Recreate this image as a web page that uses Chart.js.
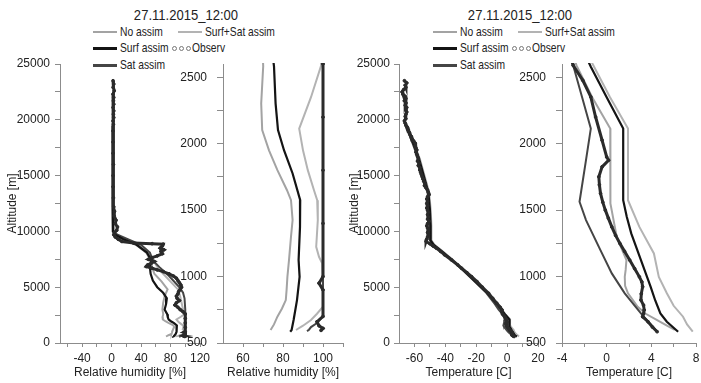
<!DOCTYPE html>
<html>
<head>
<meta charset="utf-8">
<script src="https://cdn.jsdelivr.net/npm/chart.js@4.4.0/dist/chart.umd.min.js"></script>
<style>
  body { margin: 0; background: #fff; width: 701px; height: 383px; overflow: hidden; position: relative;
         font-family: "Liberation Sans", Arial, sans-serif; color: #222; }
  canvas { position: absolute; }
  .ttl { position: absolute; font-size: 15px; line-height: 18px; white-space: nowrap; transform: translateX(-50%) scaleX(0.87); }
  .lg { position: absolute; font-size: 13px; line-height: 16px; white-space: nowrap; transform: scaleX(0.79); transform-origin: 0 50%; }
  .ln { position: absolute; height: 0; }
  .dot { position: absolute; width: 3px; height: 3px; border: 1px solid #777; border-radius: 50%; }
</style>
</head>
<body>

<div class="ttl" style="left:186px;top:6px">27.11.2015_12:00</div>
<div class="ttl" style="left:520px;top:6px">27.11.2015_12:00</div>
<div id="legends"></div>

<canvas id="c1" width="215" height="328" style="left:0;top:55px"></canvas>
<canvas id="c2" width="190" height="328" style="left:160px;top:55px"></canvas>
<canvas id="c3" width="205" height="328" style="left:345px;top:55px"></canvas>
<canvas id="c4" width="196" height="328" style="left:505px;top:55px"></canvas>

<script>
// profiles: [altitude m, value]
var rhNoAssim = [[19500,1],[16000,1],[12000,1],[10000,1.5],[9700,4],[9300,15],[8800,33],[8100,47],[7400,53],[6800,55],[6200,58],[5500,68],[4800,76],[4200,72],[3600,70],[3000,69],[2583,70.1],[2302,69.1],[2102,69.6],[1950,73],[1801,77.2],[1650,82],[1575,84],[1425,84.8],[1300,84],[1124,83],[998,82.2],[900,81.8],[823,81.4],[760,79.5],[698,77.2],[640,75.5],[598,73.8]];
var rhSurfSat = [[19500,2],[16000,2],[12000,2],[10000,2.5],[9700,6],[9300,18],[8800,36],[8100,50],[7400,57],[6800,62],[6200,70],[5500,80],[4800,90],[4200,93],[3600,95],[3000,97],[2590,99.1],[2350,94],[2114,88.1],[1950,90],[1801,92.4],[1650,95.5],[1575,97.1],[1425,97.4],[1224,96.6],[1149,98],[1099,99.6],[900,100],[773,100],[720,97],[673,94],[630,90],[598,86.5]];
var rhSurf = [[19500,1.5],[16000,1.5],[12000,1.5],[10000,2],[9700,5],[9300,16],[8800,34],[8100,48],[7400,54],[6800,52],[6200,53],[5600,56],[5000,62],[4500,70],[4000,75],[3500,74],[3000,72],[2583,75.5],[2302,76.3],[2102,77.5],[1951,80.5],[1776,84.8],[1575,88.6],[1374,88.5],[1124,87.8],[998,88.3],[823,87],[673,85.3],[598,84.3],[585,83.6]];
var rhSat = [[19500,2],[12000,2],[10000,3],[9700,8],[9300,22],[8800,40],[8100,52],[7400,56],[6800,65],[6000,78],[5000,92],[4500,97],[4000,99],[3000,100],[2600,100],[1500,100],[700,100],[650,97],[620,94],[600,93],[590,92]];
var rhObserv = [[23500,2],[23200,3],[22900,2],[22600,3.5],[22300,2],[22000,3],[21700,2.5],[21400,3],[21100,2],[20800,3],[20500,2.5],[20200,3],[19900,2],[19600,2.5],[19000,2],[18000,2],[17000,2],[16000,2.5],[15000,2],[14000,2],[13000,2.5],[12200,3],[11800,4],[11400,3.5],[11000,6],[10700,5],[10400,8],[10100,7],[9900,4],[9700,3],[9500,5],[9300,9],[9100,14],[8950,30],[8900,55],[8850,70],[8700,69],[8500,66],[8350,71],[8200,67],[8000,69],[7800,62],[7650,55],[7500,50],[7300,58],[7150,54],[7000,49],[6850,47],[6700,55],[6550,62],[6400,70],[6200,78],[6000,84],[5800,88],[5600,90],[5400,92],[5200,94],[5000,95],[4800,93],[4600,91],[4400,90],[4200,88],[4000,89],[3800,92],[3600,88],[3400,86],[3200,90],[3000,93],[2800,97],[2600,100],[2200,100],[1800,100],[1400,100],[1000,100],[950,98],[900,100],[700,100],[660,97],[630,98],[610,100],[595,99]];

var tNoAssim = [[19500,-65],[18000,-61],[16500,-57],[15000,-54],[13500,-51],[12000,-50],[10500,-49.5],[9200,-49.5],[8800,-47.5],[8300,-43],[7500,-36],[6500,-28],[5500,-20.5],[4500,-13],[3500,-7],[3000,-4.5],[2590,-2.7],[2350,-1.3],[2114,0.32],[1800,0.32],[1550,0.35],[1299,0.9],[1124,1.77],[1050,1.7],[998,1.62],[930,1.65],[874,1.91],[773,2.78],[720,3.5],[673,4.52],[630,5.4],[598,6.1]];
var tSurfSat = [[19500,-64.5],[18000,-60.5],[16500,-56.5],[15000,-53.5],[13500,-50.5],[12000,-49.5],[10500,-49],[9200,-49],[8800,-47],[8300,-42.5],[7500,-35.5],[6500,-27.5],[5500,-20],[4500,-12.5],[3500,-6.3],[3000,-3.5],[2590,-1.2],[2350,0.3],[2114,1.91],[1850,1.91],[1575,1.91],[1374,2.93],[1174,4.23],[998,4.67],[874,5.39],[780,6],[698,6.84],[640,7.2],[585,7.71]];
var tSurf = [[19500,-65],[18000,-61],[16500,-57],[15000,-54],[13500,-51],[12000,-50],[10500,-49.5],[9200,-49.5],[8800,-47.5],[8300,-43],[7500,-36],[6500,-28],[5500,-20.5],[4500,-13],[3500,-6.5],[3000,-3.8],[2580,-1.42],[2350,0],[2114,1.48],[1850,1.48],[1575,1.48],[1450,1.8],[1325,2.2],[1124,3.07],[923,3.94],[820,4.35],[723,4.81],[660,5.39],[585,6.4]];
var tSat = [[19500,-65.5],[18000,-61.5],[16500,-57.5],[15000,-54.5],[13500,-51.5],[12000,-50.5],[10500,-50],[9200,-50],[8800,-48],[8300,-43.5],[7500,-36.5],[6500,-28.5],[5500,-21],[4500,-13.5],[3500,-8],[3000,-5.5],[2590,-3],[2350,-2.2],[2114,-1.42],[1850,-1.9],[1563,-2.43],[1425,-1.85],[1224,-0.7],[1024,0.46],[874,1.62],[723,3.07],[585,4.52]];
var tObserv = [[23500,-66.5],[23300,-65],[23100,-66],[22900,-65.5],[22700,-67],[22500,-68],[22300,-67.5],[22100,-66],[21900,-65.5],[21700,-66.5],[21500,-65.5],[21300,-66],[21100,-65],[20900,-65.5],[20700,-65],[20500,-65.5],[20300,-66],[20100,-65.5],[19900,-66.5],[19700,-66],[19500,-65.5],[19300,-64.5],[19100,-64],[18900,-63.5],[18700,-63],[18500,-62],[18300,-61.5],[18100,-60.5],[17900,-59.5],[17700,-59.5],[17500,-59],[17300,-58.5],[17100,-59],[16900,-58.5],[16700,-58],[16500,-57.5],[16300,-58],[16100,-57],[15900,-57.5],[15700,-56.5],[15500,-56.5],[15300,-56],[15100,-55.5],[14900,-55],[14700,-54.5],[14500,-54],[14300,-53],[14100,-53.5],[13900,-52.5],[13700,-51.5],[13500,-51],[13300,-50.5],[13100,-51.5],[12900,-52],[12700,-51.5],[12500,-52],[12300,-51.5],[12100,-52],[11900,-51.5],[11700,-51],[11500,-51.5],[11300,-51],[11100,-51.5],[10900,-50.5],[10700,-51.5],[10500,-52],[10300,-51.5],[10100,-51],[9900,-51.5],[9700,-51],[9500,-51.5],[9300,-52],[9100,-52.5],[8900,-50],[8700,-48],[8500,-45.8],[8200,-43],[7900,-40.5],[7440,-36],[7000,-32],[6700,-29.5],[6300,-26],[5940,-23],[5500,-19.5],[5000,-16],[4450,-12],[4000,-9.3],[3560,-6.7],[3200,-4.5],[2960,-3.3],[2800,-3.5],[2590,-3],[2477,-2.14],[2352,-1.42],[2201,-0.99],[2026,-0.41],[1900,0],[1876,0.17],[1826,-0.41],[1751,-0.7],[1690,-0.65],[1626,-0.55],[1560,-0.35],[1500,-0.12],[1440,0.15],[1374,0.46],[1310,0.8],[1249,1.19],[1190,1.6],[1124,2.06],[1060,2.5],[998,2.93],[960,3.15],[923,3.22],[870,3.1],[823,3.07],[785,3.3],[748,3.36],[720,3.3],[698,3.22],[660,3.7],[620,4.1],[585,4.52]];

// ticks
var altTicks = [0,2500,5000,7500,10000,12500,15000,17500,20000,22500,25000];
var altLabels = [0,5000,10000,15000,20000,25000];
var altZoomTicks = [500,750,1000,1250,1500,1750,2000,2250,2500];
var altZoomLabels = [500,1000,1500,2000,2500];
var rhTicks = [-60,-40,-20,0,20,40,60,80,100,120];
var rhLabels = [-40,0,40,80,120];
var rhZoomTicks = [60,70,80,90,100,110];
var rhZoomLabels = [60,80,100];
var tTicks = [-60,-50,-40,-30,-20,-10,0,10,20];
var tLabels = [-60,-40,-20,0,20];
var tZoomTicks = [-4,-2,0,2,4,6,8];
var tZoomLabels = [-4,0,4,8];

var seriesNames = ['No assim', 'Surf+Sat assim', 'Surf assim', 'Observ', 'Sat assim'];
var cNo = '#a3a3a3', cSurfSat = '#b3b3b3', cSurf = '#141414', cSat = '#454545', cObs = '#2b2b2b';

Chart.defaults.font.family = '"Liberation Sans", Arial, sans-serif';
Chart.defaults.font.size = 12;
Chart.defaults.color = '#222';

function line(label, pts, color, width) {
  return {
    label: label,
    data: pts.map(function (p) { return { x: p[1], y: p[0] }; }),
    showLine: true, borderColor: color, backgroundColor: color, borderWidth: width,
    pointRadius: 0, tension: 0, clip: 1
  };
}

function observ(pts) {
  var d = line('Observ', pts, cObs, 3);
  d.pointRadius = 1.4;
  d.pointBorderWidth = 1;
  d.pointBackgroundColor = cObs;
  d.pointBorderColor = cObs;
  return d;
}

function profile(id, o) {
  new Chart(document.getElementById(id), {
    type: 'scatter',
    data: { datasets: o.sets },
    options: {
      responsive: false, animation: false, devicePixelRatio: 1,
      layout: { padding: { top: 9, right: o.padRight, bottom: 0, left: 0 } },
      plugins: { legend: { display: false }, tooltip: { enabled: false } },
      scales: {
        x: {
          type: 'linear', min: o.xMin, max: o.xMax,
          afterBuildTicks: function (s) { s.ticks = o.xTicks.map(function (v) { return { value: v }; }); },
          afterFit: function (s) { s.height = 40; s.paddingLeft = 0; s.paddingRight = 0; },
          ticks: { autoSkip: false, maxRotation: 0, padding: 4,
                   callback: function (v) { return o.xLabels.indexOf(v) >= 0 ? String(v) : ''; } },
          grid: { drawOnChartArea: false, drawTicks: true, tickLength: 4, color: '#8c8c8c' },
          border: { color: '#8c8c8c' },
          title: { display: true, text: o.xTitle, padding: { top: 0, bottom: 3 } }
        },
        y: {
          type: 'linear', min: o.yMin, max: o.yMax,
          afterBuildTicks: function (s) { s.ticks = o.yTicks.map(function (v) { return { value: v }; }); },
          afterFit: function (s) { s.width = o.yWidth; s.paddingTop = 0; s.paddingBottom = 0; },
          ticks: { autoSkip: false, padding: o.yPad,
                   callback: function (v) { return o.yLabels.indexOf(v) >= 0 ? String(v) : ''; } },
          grid: { drawOnChartArea: false, drawTicks: true, tickLength: o.yTick, color: '#8c8c8c' },
          border: { color: '#8c8c8c' },
          title: { display: !!o.yTitle, text: o.yTitle || '', padding: { top: o.yTitlePad || 0, bottom: 0 } }
        }
      }
    }
  });
}

function rhSets() {
  return [observ(rhObserv), line('Surf assim', rhSurf, cSurf, 2.2), line('Sat assim', rhSat, cSat, 2),
          line('Surf+Sat assim', rhSurfSat, cSurfSat, 2), line('No assim', rhNoAssim, cNo, 2)];
}
function tSets() {
  return [observ(tObserv), line('Surf assim', tSurf, cSurf, 2.2), line('Sat assim', tSat, cSat, 2),
          line('Surf+Sat assim', tSurfSat, cSurfSat, 2), line('No assim', tNoAssim, cNo, 2)];
}

profile('c1', { sets: rhSets(), xMin: -70, xMax: 120, xTicks: rhTicks, xLabels: rhLabels,
  yMin: 0, yMax: 25000, yTicks: altTicks, yLabels: altLabels, yWidth: 60, yTick: 5, yPad: 5,
  padRight: 15, xTitle: 'Relative humidity [%]', yTitle: 'Altitude [m]', yTitlePad: 5 });
profile('c2', { sets: rhSets(), xMin: 50, xMax: 110, xTicks: rhZoomTicks, xLabels: rhZoomLabels,
  yMin: 500, yMax: 2600, yTicks: altZoomTicks, yLabels: altZoomLabels, yWidth: 63, yTick: 6, yPad: 10,
  padRight: 7, xTitle: 'Relative humidity [%]' });
profile('c3', { sets: tSets(), xMin: -70, xMax: 20, xTicks: tTicks, xLabels: tLabels,
  yMin: 0, yMax: 25000, yTicks: altTicks, yLabels: altLabels, yWidth: 54, yTick: 5, yPad: 4,
  padRight: 12, xTitle: 'Temperature [C]', yTitle: 'Altitude [m]', yTitlePad: 2 });
profile('c4', { sets: tSets(), xMin: -4, xMax: 8, xTicks: tZoomTicks, xLabels: tZoomLabels,
  yMin: 500, yMax: 2600, yTicks: altZoomTicks, yLabels: altZoomLabels, yWidth: 57, yTick: 6, yPad: 10,
  padRight: 1, xTitle: 'Temperature [C]' });

// legends
function legend(dx) {
  var h = '';
  var rows = [
    { x: 93, y: 32, name: seriesNames[0], c: cNo, w: 2 },
    { x: 178, y: 32, name: seriesNames[1], c: cSurfSat, w: 2 },
    { x: 93, y: 48, name: seriesNames[2], c: cSurf, w: 3 },
    { x: 172, y: 48, name: seriesNames[3], dots: true },
    { x: 93, y: 65, name: seriesNames[4], c: cSat, w: 3 }
  ];
  rows.forEach(function (r) {
    var x = r.x + dx;
    if (r.dots) {
      [0, 7, 14].forEach(function (k) {
        h += '<div class="dot" style="left:' + (x + k) + 'px;top:' + (r.y - 2) + 'px"></div>';
      });
      h += '<div class="lg" style="left:' + (x + 20) + 'px;top:' + (r.y - 8) + 'px">' + r.name + '</div>';
    } else {
      h += '<div class="ln" style="left:' + x + 'px;top:' + (r.y - r.w / 2) + 'px;width:24px;border-top:' + r.w + 'px solid ' + r.c + '"></div>';
      h += '<div class="lg" style="left:' + (x + 27) + 'px;top:' + (r.y - 8) + 'px">' + r.name + '</div>';
    }
  });
  return h;
}
document.getElementById('legends').innerHTML = legend(0) + legend(340);
</script>
</body>
</html>
